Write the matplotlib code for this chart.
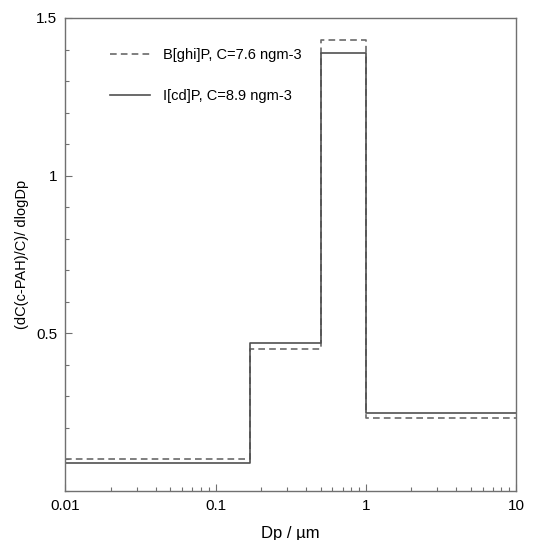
import numpy as np
import matplotlib
matplotlib.use('Agg')
import matplotlib.pyplot as plt
from matplotlib.ticker import FixedLocator, MultipleLocator, LogLocator, NullFormatter

plt.rcParams['font.family'] = ['Liberation Sans', 'DejaVu Sans']

# bin edges (um) and size-distribution values
edges = [0.01, 0.17, 0.5, 1.0, 10.0]
bghip = [0.10, 0.45, 1.43, 0.23]
icdp = [0.09, 0.47, 1.39, 0.248]
labels = ['B[ghi]P, C=7.6 ngm-3', 'I[cd]P, C=8.9 ngm-3']

xticks = [0.01, 0.1, 1, 10]
xticklabels = ['0.01', '0.1', '1', '10']
yticks = [0.5, 1.0, 1.5]
yticklabels = ['0.5', '1', '1.5']

fig = plt.figure(figsize=(5.48, 5.40), dpi=100)
ax = fig.add_axes([0.1195, 0.0907, 0.822, 0.876])

ax.step(edges, bghip + [bghip[-1]], where='post', color='#6a6a6a', lw=1.2,
        ls=(0, (4, 2.5)), label=labels[0])
ax.step(edges, icdp + [icdp[-1]], where='post', color='#505050', lw=1.2,
        label=labels[1])

ax.set_xscale('log')
ax.set_xlim(0.01, 10)
ax.set_ylim(0, 1.5)

ax.xaxis.set_major_locator(FixedLocator(xticks))
ax.set_xticklabels(xticklabels)
ax.xaxis.set_minor_locator(LogLocator(base=10, subs=np.arange(2, 10)))
ax.xaxis.set_minor_formatter(NullFormatter())
ax.set_yticks(yticks)
ax.set_yticklabels(yticklabels)
ax.yaxis.set_minor_locator(MultipleLocator(0.1))

ax.tick_params(which='both', direction='in', top=False, right=False,
               colors='#707070', labelcolor='black', labelsize=11, width=0.8)
ax.tick_params(which='major', length=5, pad=6)
ax.tick_params(which='minor', length=3)
for s in ax.spines.values():
    s.set_color('#707070')
    s.set_linewidth(1.0)

ax.set_xlabel('Dp / \u00b5m', fontsize=12, labelpad=9)
ax.set_ylabel('(dC(c-PAH)/C)/ dlogDp', fontsize=10.5, labelpad=5)

ax.legend(loc='upper left', bbox_to_anchor=(0.07, 0.965), frameon=False,
          fontsize=10.5, handlelength=2.7, handletextpad=0.9, labelspacing=1.85)

fig.savefig('out.png', dpi=100)
